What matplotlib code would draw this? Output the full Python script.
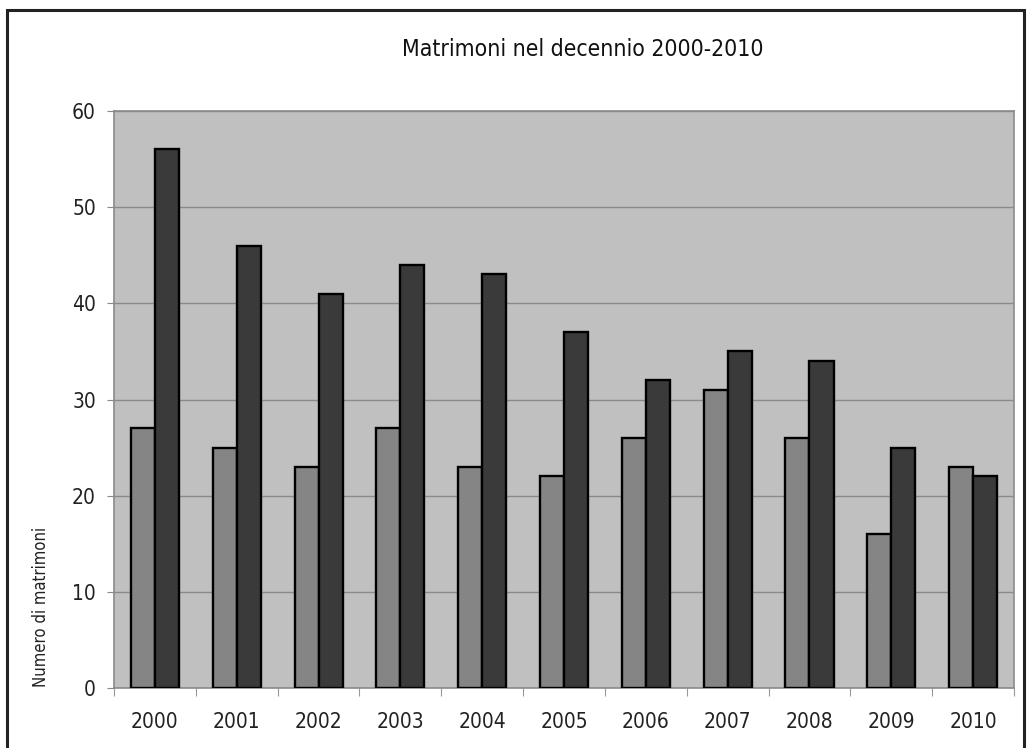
import matplotlib.pyplot as plt
import numpy as np
from matplotlib.patches import Rectangle

# dati
anni = ["2000", "2001", "2002", "2003", "2004", "2005", "2006", "2007", "2008", "2009", "2010"]
serie_chiara = [27, 25, 23, 27, 23, 22, 26, 31, 26, 16, 23]
serie_scura = [56, 46, 41, 44, 43, 37, 32, 35, 34, 25, 22]

plt.rcParams['font.family'] = ['DejaVu Sans']
plt.rcParams['font.stretch'] = 'condensed'

fig = plt.figure(figsize=(10.3, 7.48), dpi=100)
ax = fig.add_axes([0.1107, 0.0802, 0.8738, 0.7714])

x = np.arange(len(anni))
w = 1 / 3.4
ax.bar(x - w / 2, serie_chiara, width=w, color="#858585", edgecolor="black", linewidth=1.7, zorder=3)
ax.bar(x + w / 2, serie_scura, width=w, color="#3a3a3a", edgecolor="black", linewidth=1.7, zorder=3)

ax.set_facecolor("#c0c0c0")
ax.set_xlim(-0.5, len(anni) - 0.5)
ax.set_ylim(0, 60)
ax.set_yticks(range(0, 61, 10))
ax.yaxis.grid(True, color="#8a8a8a", linewidth=1, zorder=0)

# tacche ai bordi delle categorie, etichette al centro
ax.set_xticks(np.arange(-0.5, len(anni), 1))
ax.set_xticklabels([])
ax.set_xticks(x, minor=True)
ax.set_xticklabels(anni, minor=True)
ax.tick_params(axis="x", which="major", length=6, color="#999999", direction="out")
ax.tick_params(axis="x", which="minor", length=0, pad=17, labelsize=15, labelcolor="#222222")
ax.tick_params(axis="y", length=5, color="#888888", pad=8, labelsize=15, labelcolor="#222222")

for s in ax.spines.values():
    s.set_color("#8a8a8a")
    s.set_linewidth(1.2)

fig.text(0.566, 0.934, "Matrimoni nel decennio 2000-2010", ha="center", va="center",
         fontsize=16.5, color="#111111")
fig.text(0.040, 0.189, "Numero di matrimoni", rotation=90, ha="center", va="center",
         fontsize=12, color="#222222")

# cornice esterna
fig.patches.append(Rectangle((0.007, -0.01), 0.987, 0.997, transform=fig.transFigure,
                             fill=False, edgecolor="#222222", linewidth=2.2))

plt.savefig("out.png", dpi=100)
